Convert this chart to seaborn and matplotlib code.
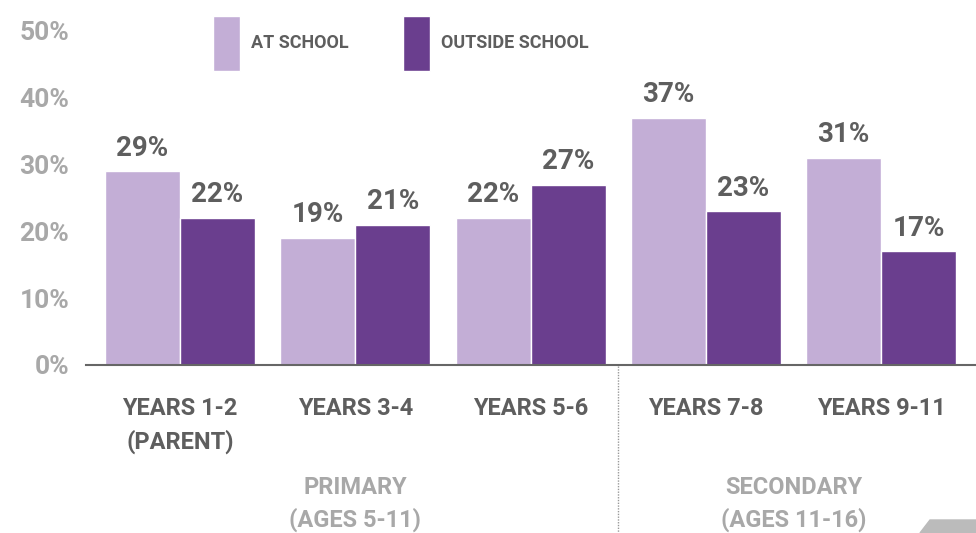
import matplotlib
matplotlib.use("Agg")
import matplotlib.pyplot as plt
import matplotlib.transforms as mtransforms
from matplotlib.patches import Polygon
import pandas as pd
import seaborn as sns

# Data
year_groups = ["YEARS 1-2\n(PARENT)", "YEARS 3-4", "YEARS 5-6", "YEARS 7-8", "YEARS 9-11"]
at_school = [29, 19, 22, 37, 31]
outside_school = [22, 21, 27, 23, 17]
series_names = ["AT SCHOOL", "OUTSIDE SCHOOL"]
y_ticks = [0, 10, 20, 30, 40, 50]
stage_labels = ["PRIMARY\n(AGES 5-11)", "SECONDARY\n(AGES 11-16)"]
stage_centres = [1, 3.5]

df = pd.DataFrame({
    "group": year_groups * 2,
    "series": [series_names[0]] * 5 + [series_names[1]] * 5,
    "value": at_school + outside_school,
})

light = "#C3AED6"
dark = "#6A3E8E"
tick_grey = "#A8A8A8"
text_grey = "#5E5E5E"

sns.set_style("white")
plt.rcParams["font.family"] = ["Roboto", "DejaVu Sans"]
plt.rcParams["font.weight"] = "bold"

fig = plt.figure(figsize=(9.76, 5.33), dpi=100)
ax = fig.add_axes([86 / 976, 1 - 365 / 533, 1 - 86 / 976, (365 - 31) / 533])

sns.barplot(data=df, x="group", y="value", hue="series",
            palette=[light, dark], width=0.857, gap=0, saturation=1,
            ax=ax)

ax.set_xlim(-0.536, 4.54)
ax.set_ylim(0, 50)
ax.set_yticks(y_ticks)
ax.set_yticklabels([f"{t}%" for t in y_ticks], color=tick_grey, fontsize=19,
                   fontweight="bold")
ax.tick_params(axis="y", length=0, pad=12)
ax.tick_params(axis="x", length=0, pad=23)
ax.set_xticklabels(year_groups, color=text_grey, fontsize=17, fontweight="bold",
                   linespacing=1.5, va="top")
ax.set_xlabel("")
ax.set_ylabel("")

for side in ["top", "right", "left"]:
    ax.spines[side].set_visible(False)
ax.spines["bottom"].set_color("#666666")
ax.spines["bottom"].set_linewidth(1.5)

for cont in ax.containers:
    ax.bar_label(cont, fmt="%d%%", padding=7, color=text_grey, fontsize=20,
                 fontweight="bold")

# stage labels below the year groups
trans = mtransforms.blended_transform_factory(ax.transData, fig.transFigure)
for lab, xc in zip(stage_labels, stage_centres):
    ax.text(xc, 1 - 476 / 533, lab, transform=trans, ha="center", va="top",
            color=tick_grey, fontsize=17, fontweight="bold", linespacing=1.45,
            clip_on=False)

# dotted separator between primary and secondary
ax.plot([2.5, 2.5], [1 - 366 / 533, 0], transform=trans, color="#999999",
        linestyle=(0, (1, 1)), linewidth=1, clip_on=False)

sns.move_legend(ax, "upper left", bbox_to_anchor=(213 / 976, 1 - 16 / 533),
                bbox_transform=fig.transFigure, ncol=2, frameon=False, title=None,
                fontsize=13, handlelength=1.5, handleheight=4.35,
                handletextpad=0.6, columnspacing=3.0, borderpad=0,
                borderaxespad=0)
for t in ax.get_legend().get_texts():
    t.set_color(text_grey)
    t.set_fontweight("bold")

# grey tab in the bottom-right corner
fig.patches.append(Polygon([(920 / 976, 0), (930 / 976, 13 / 533), (1, 13 / 533), (1, 0)],
                           closed=True, transform=fig.transFigure, color="#BBBBBB"))

fig.savefig("out.png", dpi=100)
